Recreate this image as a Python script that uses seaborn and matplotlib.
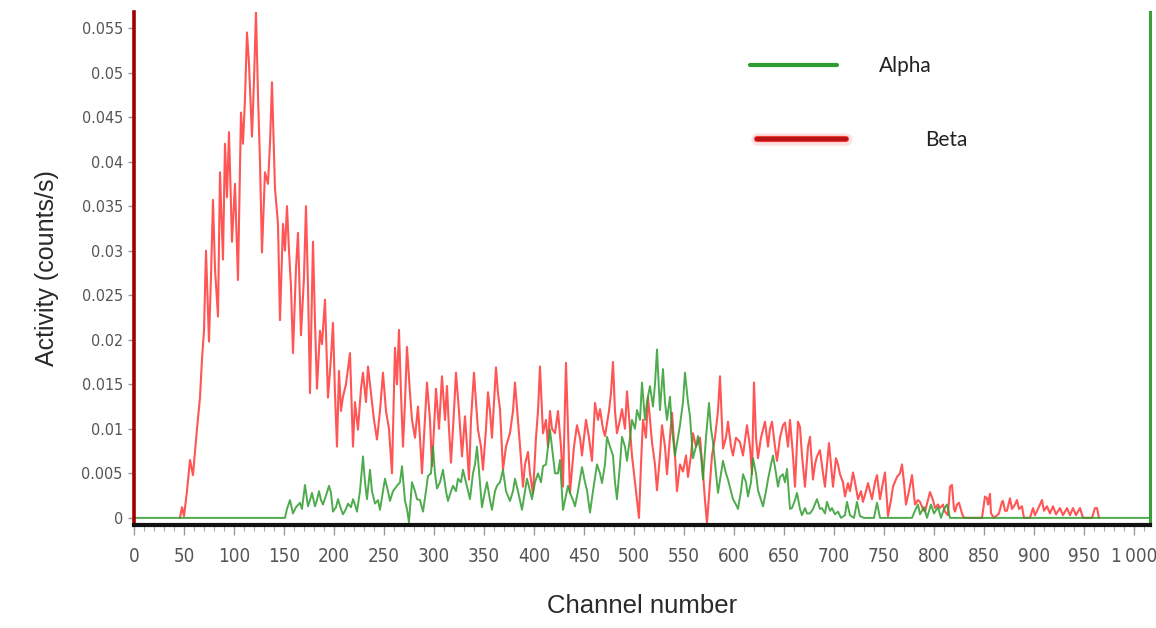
import numpy as np
import pandas as pd
import matplotlib
matplotlib.use("Agg")
import matplotlib.pyplot as plt
from matplotlib.lines import Line2D
from matplotlib.ticker import FixedLocator, MultipleLocator
import matplotlib.patheffects as pe
import seaborn as sns

# ---- spectrum data (channel, activity in counts/s) ----
beta_channel = [
    46, 48, 50, 53, 56, 59, 63, 66, 68, 70, 72, 75, 77, 79, 81, 84, 86, 89, 91, 93,
    95, 98, 101, 104, 107, 109, 111, 113, 115, 118, 120, 122, 124, 126, 128, 131, 134, 136, 138, 141,
    144, 146, 149, 151, 153, 155, 157, 159, 162, 164, 167, 170, 172, 174, 176, 179, 181, 183, 186, 188,
    191, 194, 197, 199, 201, 203, 205, 207, 209, 212, 216, 219, 221, 224, 227, 229, 232, 234, 237, 240,
    243, 246, 249, 252, 255, 258, 261, 263, 265, 267, 269, 271, 273, 276, 278, 281, 284, 286, 288, 291,
    293, 296, 298, 300, 302, 305, 308, 311, 313, 315, 317, 320, 322, 325, 328, 331, 333, 335, 337, 340,
    342, 344, 347, 349, 352, 354, 356, 358, 360, 362, 364, 366, 369, 372, 376, 379, 381, 384, 386, 389,
    391, 394, 396, 399, 402, 404, 406, 409, 412, 414, 416, 418, 421, 424, 427, 429, 432, 434, 436, 440,
    443, 446, 448, 452, 455, 458, 461, 464, 466, 469, 471, 475, 477, 479, 481, 483, 486, 488, 491, 493,
    496, 498, 501, 503, 505, 507, 509, 512, 514, 516, 518, 521, 523, 526, 528, 531, 533, 536, 538, 541,
    543, 546, 549, 552, 554, 557, 559, 562, 566, 569, 571, 573, 576, 578, 581, 584, 586, 589, 592, 594,
    597, 599, 602, 606, 609, 613, 616, 618, 620, 622, 624, 627, 631, 634, 636, 638, 641, 643, 646, 649,
    651, 654, 656, 659, 661, 664, 666, 668, 671, 674, 676, 679, 681, 683, 686, 689, 691, 693, 695, 697,
    699, 702, 704, 706, 709, 711, 714, 716, 719, 721, 724, 727, 729, 732, 734, 736, 738, 741, 743, 746,
    749, 751, 754, 757, 759, 763, 766, 768, 770, 772, 775, 778, 781, 784, 786, 789, 791, 794, 796, 799,
    801, 804, 806, 809, 811, 814, 816, 818, 820, 821, 823, 825, 828, 830, 848, 851, 853, 854, 856, 857,
    860, 865, 868, 869, 871, 873, 876, 878, 881, 883, 885, 888, 890, 896, 899, 901, 904, 906, 908, 910,
    913, 916, 919, 922, 926, 929, 933, 936, 939, 942, 946, 949, 958, 961, 963, 965,
]
beta_activity = [
    0.0, 0.0012, 0.0002, 0.003, 0.0065, 0.0048, 0.010, 0.0135, 0.0178, 0.021,
    0.030, 0.0198, 0.027, 0.0357, 0.028, 0.0226, 0.0388, 0.029, 0.042, 0.036,
    0.0433, 0.031, 0.0375, 0.0267, 0.0455, 0.042, 0.047, 0.0545, 0.051, 0.0428,
    0.049, 0.0568, 0.0475, 0.040, 0.0298, 0.0388, 0.0375, 0.042, 0.0489, 0.037,
    0.033, 0.0222, 0.033, 0.030, 0.035, 0.030, 0.026, 0.0185, 0.028, 0.032,
    0.0205, 0.027, 0.035, 0.026, 0.014, 0.031, 0.022, 0.0145, 0.021, 0.0195,
    0.0245, 0.0135, 0.018, 0.0219, 0.014, 0.008, 0.0165, 0.012, 0.0136, 0.015,
    0.0185, 0.008, 0.013, 0.0099, 0.0145, 0.0163, 0.013, 0.017, 0.014, 0.011,
    0.0088, 0.012, 0.0163, 0.012, 0.010, 0.005, 0.0191, 0.015, 0.0211, 0.014,
    0.008, 0.013, 0.0192, 0.014, 0.011, 0.009, 0.0125, 0.009, 0.005, 0.011,
    0.0152, 0.011, 0.0058, 0.010, 0.0145, 0.010, 0.0159, 0.011, 0.0148, 0.010,
    0.0062, 0.012, 0.0163, 0.012, 0.0069, 0.0114, 0.008, 0.0043, 0.011, 0.0163,
    0.013, 0.0099, 0.008, 0.0054, 0.010, 0.0141, 0.012, 0.009, 0.013, 0.0169,
    0.014, 0.0122, 0.0054, 0.008, 0.0095, 0.012, 0.0152, 0.011, 0.0081, 0.0035,
    0.006, 0.0074, 0.005, 0.0027, 0.009, 0.012, 0.017, 0.0095, 0.011, 0.008,
    0.012, 0.010, 0.0095, 0.012, 0.008, 0.0035, 0.0174, 0.010, 0.0028, 0.008,
    0.0104, 0.009, 0.007, 0.011, 0.009, 0.0064, 0.0129, 0.011, 0.0122, 0.010,
    0.0092, 0.012, 0.014, 0.0175, 0.012, 0.0095, 0.011, 0.0122, 0.010, 0.0142,
    0.010, 0.007, 0.004, 0.002, 0.0, 0.006, 0.011, 0.009, 0.0136, 0.011,
    0.0085, 0.006, 0.0031, 0.007, 0.0104, 0.008, 0.0049, 0.009, 0.0118, 0.007,
    0.003, 0.006, 0.0052, 0.007, 0.0046, 0.007, 0.0095, 0.008, 0.009, 0.005,
    0.002, -0.0006, 0.004, 0.007, 0.009, 0.012, 0.0159, 0.0078, 0.009, 0.0108,
    0.008, 0.007, 0.009, 0.0085, 0.007, 0.0104, 0.008, 0.0049, 0.0152, 0.009,
    0.0067, 0.009, 0.0108, 0.008, 0.010, 0.0108, 0.008, 0.0064, 0.009, 0.0104,
    0.0107, 0.008, 0.011, 0.007, 0.0035, 0.0108, 0.0102, 0.007, 0.0035, 0.008,
    0.0091, 0.0043, 0.006, 0.0069, 0.0076, 0.005, 0.0035, 0.006, 0.0084, 0.006,
    0.0035, 0.0067, 0.006, 0.0049, 0.004, 0.0024, 0.0039, 0.003, 0.0051, 0.004,
    0.0021, 0.003, 0.0018, 0.003, 0.0039, 0.003, 0.0021, 0.004, 0.0048, 0.0021,
    0.004, 0.0051, 0.0002, 0.002, 0.0035, 0.0046, 0.005, 0.006, 0.004, 0.0015,
    0.003, 0.0048, 0.0015, 0.002, 0.0018, 0.001, 0.0007, 0.002, 0.0029, 0.002,
    0.0011, 0.0015, 0.0011, 0.0015, 0.0007, 0.0003, 0.0035, 0.0037, 0.001, 0.0007,
    0.0015, 0.0017, 0.0005, 0.0, 0.0, 0.0024, 0.0022, 0.0015, 0.0027, 0.0005,
    0.0, 0.0005, 0.0018, 0.0019, 0.0008, 0.0008, 0.0022, 0.001, 0.0015, 0.002,
    0.001, 0.0013, 0.0, 0.0, 0.0011, 0.0003, 0.001, 0.0015, 0.002, 0.0008,
    0.0013, 0.0005, 0.0013, 0.0004, 0.0011, 0.0003, 0.0011, 0.0003, 0.0011, 0.0003,
    0.0011, 0.0, 0.0, 0.0011, 0.0011, 0.0,
]

alpha_channel = [
    0, 151, 153, 156, 159, 162, 166, 168, 171, 174, 176, 178, 181, 183, 185, 187, 189, 192, 195, 197,
    199, 202, 204, 207, 209, 212, 214, 217, 219, 221, 223, 226, 229, 231, 233, 236, 238, 241, 244, 246,
    249, 251, 254, 256, 259, 263, 266, 268, 271, 273, 275, 278, 281, 283, 286, 289, 292, 294, 297, 299,
    301, 303, 306, 309, 312, 314, 317, 319, 322, 324, 327, 329, 332, 336, 339, 341, 343, 346, 348, 351,
    353, 356, 358, 361, 363, 366, 369, 372, 376, 379, 381, 384, 388, 391, 393, 396, 398, 401, 404, 407,
    409, 412, 414, 416, 419, 421, 424, 426, 429, 431, 434, 436, 439, 441, 444, 448, 451, 453, 456, 459,
    463, 466, 468, 471, 473, 476, 479, 481, 483, 486, 488, 491, 493, 496, 498, 501, 503, 506, 508, 511,
    513, 516, 519, 521, 523, 526, 529, 531, 533, 536, 538, 541, 544, 546, 549, 551, 554, 556, 559, 562,
    564, 567, 569, 572, 575, 577, 579, 582, 584, 587, 589, 592, 594, 597, 599, 602, 604, 607, 609, 612,
    614, 617, 619, 622, 624, 627, 629, 632, 634, 637, 639, 642, 644, 646, 649, 651, 653, 656, 658, 661,
    663, 666, 668, 671, 673, 676, 679, 683, 686, 688, 691, 693, 696, 698, 701, 704, 707, 711, 713, 716,
    720, 723, 726, 730, 740, 743, 746, 778, 781, 784, 786, 790, 793, 797, 800, 804, 807, 810, 813, 816,
    1016,
]
alpha_activity = [
    0.0, 0.0, 0.001, 0.002, 0.0005, 0.0012, 0.0017, 0.001, 0.0037, 0.0013,
    0.002, 0.0028, 0.0013, 0.002, 0.003, 0.002, 0.0015, 0.0025, 0.0036, 0.0028,
    0.0007, 0.0012, 0.0021, 0.001, 0.0004, 0.001, 0.0016, 0.0012, 0.0021, 0.0015,
    0.0007, 0.003, 0.0069, 0.004, 0.0021, 0.0054, 0.003, 0.0016, 0.002, 0.0009,
    0.003, 0.0044, 0.003, 0.0019, 0.003, 0.0036, 0.004, 0.0058, 0.0019, 0.001,
    -0.0005, 0.004, 0.003, 0.0021, 0.002, 0.0007, 0.003, 0.0047, 0.005, 0.008,
    0.005, 0.0033, 0.004, 0.0054, 0.003, 0.0019, 0.003, 0.0036, 0.003, 0.0044,
    0.004, 0.0054, 0.004, 0.0021, 0.005, 0.006, 0.008, 0.004, 0.0012, 0.003,
    0.004, 0.002, 0.0009, 0.003, 0.0036, 0.004, 0.0054, 0.003, 0.0019, 0.003,
    0.0044, 0.003, 0.0009, 0.003, 0.0044, 0.003, 0.0021, 0.004, 0.005, 0.004,
    0.0058, 0.006, 0.008, 0.0099, 0.007, 0.005, 0.005, 0.0065, 0.0009, 0.002,
    0.0036, 0.0028, 0.002, 0.0013, 0.003, 0.0057, 0.004, 0.0031, 0.0006, 0.003,
    0.006, 0.005, 0.0039, 0.006, 0.0091, 0.008, 0.007, 0.004, 0.0021, 0.006,
    0.0091, 0.008, 0.0064, 0.009, 0.011, 0.010, 0.0121, 0.011, 0.0152, 0.011,
    0.013, 0.0148, 0.0125, 0.015, 0.0189, 0.0121, 0.0167, 0.013, 0.011, 0.0136,
    0.010, 0.007, 0.009, 0.0104, 0.013, 0.0163, 0.013, 0.0114, 0.0067, 0.008,
    0.0092, 0.007, 0.0043, 0.009, 0.0129, 0.010, 0.0085, 0.005, 0.0028, 0.005,
    0.0064, 0.005, 0.0043, 0.003, 0.0021, 0.0015, 0.001, 0.003, 0.0049, 0.004,
    0.0024, 0.004, 0.0067, 0.005, 0.0031, 0.002, 0.0013, 0.003, 0.0043, 0.006,
    0.007, 0.005, 0.0035, 0.0046, 0.0049, 0.004, 0.0055, 0.001, 0.0011, 0.002,
    0.0028, 0.001, 0.0003, 0.0011, 0.0005, 0.0005, 0.001, 0.0021, 0.001, 0.0011,
    0.0005, 0.0018, 0.0008, 0.0011, 0.0004, 0.0007, 0.0, 0.0003, 0.0018, 0.0003,
    0.0, 0.0018, 0.0002, 0.0, 0.0, 0.0017, 0.0, 0.0, 0.0008, 0.0015,
    0.0004, 0.0012, 0.0, 0.0015, 0.0005, 0.0012, 0.0, 0.001, 0.0015, 0.0,
    0.0,
]

x_ticks = list(range(0, 1001, 50))
# thousands grouped with a thin space
x_tick_labels = [f"{v:,}".replace(",", "\u2009") for v in x_ticks]
y_ticks = [0, 0.005, 0.01, 0.015, 0.02, 0.025, 0.03, 0.035, 0.04, 0.045, 0.05, 0.055]
y_tick_labels = ["0", "0.005", "0.01", "0.015", "0.02", "0.025", "0.03",
                 "0.035", "0.04", "0.045", "0.05", "0.055"]

series_names = ["Alpha", "Beta"]
alpha_color = "#2f9c2f"
beta_color = "#ff2a2a"

sns.set_theme(style="white")
plt.rcParams["font.family"] = ["Liberation Sans", "DejaVu Sans"]

beta_df = pd.DataFrame({"Channel": beta_channel, "Activity": beta_activity})
alpha_df = pd.DataFrame({"Channel": alpha_channel, "Activity": alpha_activity})

fig = plt.figure(figsize=(11.56, 6.28), dpi=100)
ax = fig.add_axes([0.1159, 0.164, 0.8789, 0.817])

sns.lineplot(data=beta_df, x="Channel", y="Activity", ax=ax, color=beta_color,
             linewidth=1.5, alpha=0.8, estimator=None, sort=False)
sns.lineplot(data=alpha_df, x="Channel", y="Activity", ax=ax, color=alpha_color,
             linewidth=1.4, alpha=0.85, estimator=None, sort=False)

ax.set_xlim(0, 1016)
ax.set_ylim(-0.0008, 0.0568)

# spines
ax.spines["top"].set_visible(False)
ax.spines["left"].set_color("#a00000")
ax.spines["left"].set_linewidth(2.6)
ax.spines["right"].set_color("#3a9e3a")
ax.spines["right"].set_linewidth(2.2)
ax.spines["bottom"].set_color("#111111")
ax.spines["bottom"].set_linewidth(3.0)

# ticks: condensed grey numerals
tick_font = dict(family="DejaVu Sans", stretch="condensed", color="#555555")
ax.xaxis.set_major_locator(FixedLocator(x_ticks))
ax.set_xticklabels(x_tick_labels, fontsize=13.5, **tick_font)
ax.xaxis.set_minor_locator(MultipleLocator(10))
ax.set_yticks(y_ticks)
ax.set_yticklabels(y_tick_labels, fontsize=11.5, **tick_font)
ax.tick_params(axis="x", which="major", direction="out", length=7, width=1,
               color="#999999", pad=9, bottom=True)
ax.tick_params(axis="x", which="minor", direction="out", length=4, width=0.8,
               color="#aaaaaa", bottom=True)
ax.tick_params(axis="y", which="major", direction="out", length=4, width=1,
               color="#999999", pad=4, left=True)

ax.set_xlabel("Channel number", fontsize=18.5, color="#2a2a2a", labelpad=20)
ax.set_ylabel("Activity (counts/s)", fontsize=18, color="#2a2a2a", labelpad=16)

# legend, one entry per box
legend_font = {"family": ["Lato", "DejaVu Sans"], "size": 15}
alpha_handle = Line2D([], [], color=alpha_color, linewidth=3)
beta_handle = Line2D([], [], color="#b81414", linewidth=3.2,
                     path_effects=[pe.Stroke(linewidth=9, foreground="#fbe3e3"),
                                   pe.Stroke(linewidth=4.5, foreground="#ff4a4a"),
                                   pe.Normal()])
leg1 = ax.legend([alpha_handle], [series_names[0]], loc="center left",
                 bbox_to_anchor=(0.606, 0.895), frameon=False, borderpad=0,
                 borderaxespad=0, handlelength=4.2, handletextpad=2.0, prop=legend_font)
for t in leg1.get_texts():
    t.set_color("#222222")
ax.add_artist(leg1)
leg2 = ax.legend([beta_handle], [series_names[1]], loc="center left",
                 bbox_to_anchor=(0.613, 0.750), frameon=False, borderpad=0,
                 borderaxespad=0, handlelength=4.3, handletextpad=3.8, prop=legend_font)
for t in leg2.get_texts():
    t.set_color("#222222")

fig.savefig("out.png", dpi=100, facecolor="white")
